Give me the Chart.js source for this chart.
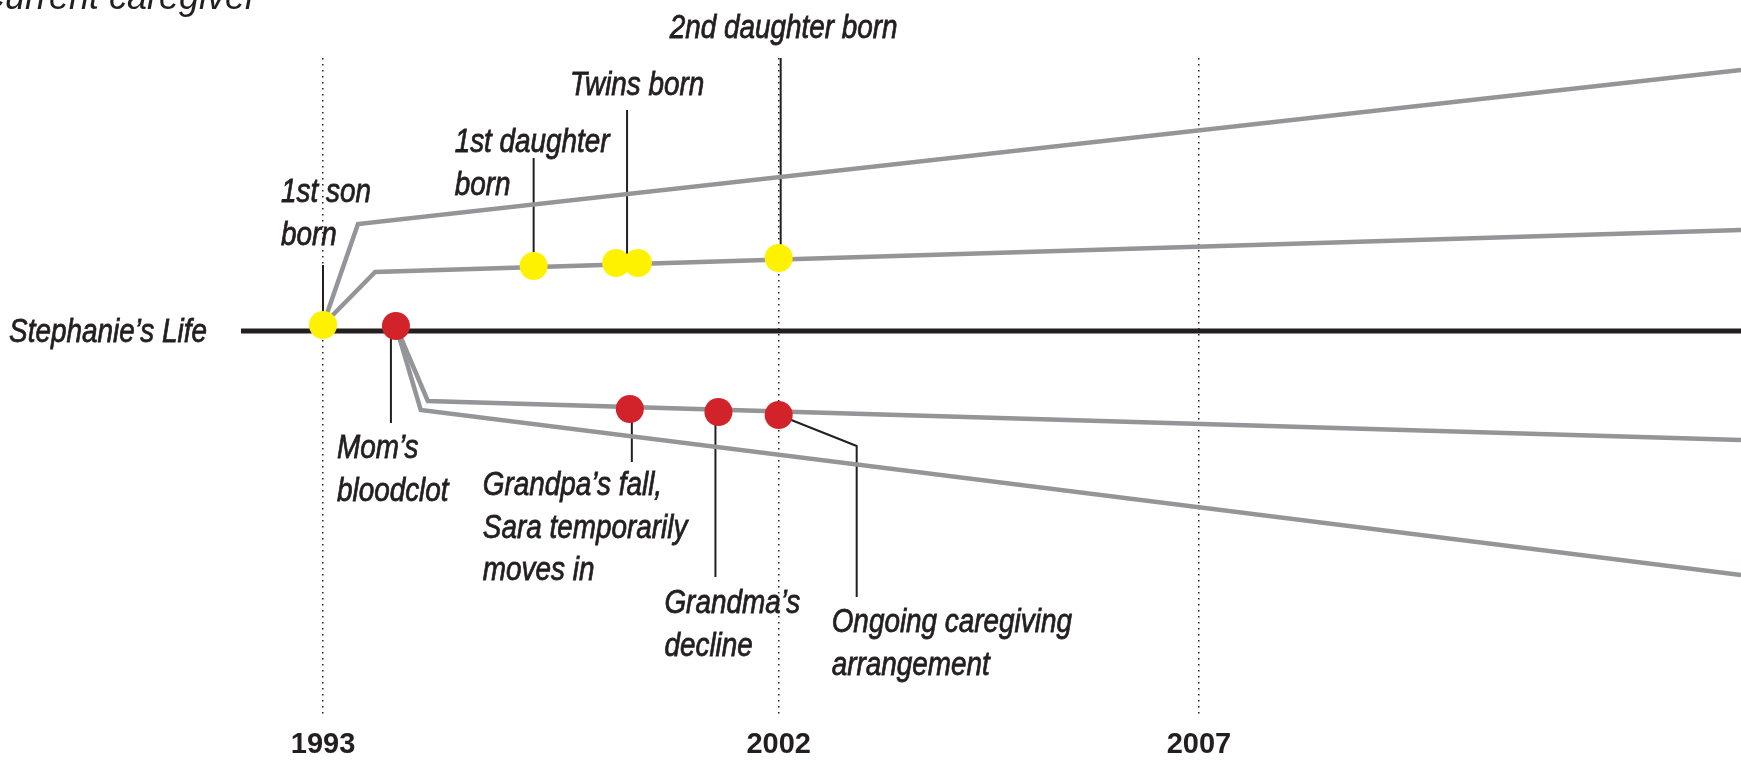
<!DOCTYPE html>
<html>
<head>
<meta charset="utf-8">
<script src="https://cdn.jsdelivr.net/npm/chart.js@4"></script>
<style>
  body { margin: 0; background: #fff; }
  canvas { display: block; }
</style>
</head>
<body>
<canvas id="timeline" width="1741" height="760"></canvas>
<script>
const yearTicks = [1993, 2002, 2007];
const yearLabels = ['1993', '2002', '2007'];
const lifeLabel = 'Stephanie\u2019s Life';
const pageTitle = 'Current caregiver';

// the life line itself (years, distance from the line)
const lifeYears = [1991.38, 2013.45];
const lifeLevel = [0, 0];

// children branching off above the line
const outerKidsYears = [1993.0, 1993.69, 2013.45];
const outerKidsLevel = [0.6, 10.7, 26.1];
const innerKidsYears = [1993.0, 1994.03, 2013.45];
const innerKidsLevel = [0.6, 5.9, 10.1];

// caregiving branches below the line
const upperCareYears = [1994.44, 1995.07, 2013.45];
const upperCareLevel = [0.5, -7.0, -10.9];
const lowerCareYears = [1994.44, 1994.93, 2013.45];
const lowerCareLevel = [0.5, -7.9, -24.4];

const birthEvents = ['1st son born', '1st daughter born', 'Twins born', 'Twins born', '2nd daughter born'];
const birthYears = [1993.0, 1997.16, 1998.79, 1999.22, 2002.0];
const birthLevel = [0.6, 6.5, 6.8, 6.8, 7.3];

const careEvents = ['Mom\u2019s bloodclot', 'Grandpa\u2019s fall, Sara temporarily moves in', 'Grandma\u2019s decline', 'Ongoing caregiving arrangement'];
const careYears = [1994.44, 1999.06, 2000.81, 2002.0];
const careLevel = [0.5, -7.8, -8.1, -8.4];

// years after 2002 are drawn wider on the original timeline
const stretchFrom = 2002;
const stretchBy = 1.66;
const stretch = (y) => (y <= stretchFrom ? y : stretchFrom + (y - stretchFrom) * stretchBy);
const unstretch = (v) => (v <= stretchFrom ? v : stretchFrom + (v - stretchFrom) / stretchBy);

class TimelineScale extends Chart.LinearScale {
  getPixelForValue(value) {
    return value === null ? NaN : super.getPixelForValue(stretch(value));
  }
  getValueForPixel(pixel) {
    return unstretch(super.getValueForPixel(pixel));
  }
}
TimelineScale.id = 'timeline';
TimelineScale.defaults = Chart.LinearScale.defaults;
Chart.register(TimelineScale);

// label placement (pixel offsets from the marked event)
const notes = [
  { set: 'birth', idx: [0], lines: ['1st son', 'born'], dx: -42, dy: -123, leader: [[0, 0], [0, -60]] },
  { set: 'birth', idx: [1], lines: ['1st daughter', 'born'], dx: -79, dy: -114, leader: [[0, 0], [0, -108]] },
  { set: 'birth', idx: [2, 3], lines: ['Twins born'], dx: -57, dy: -168, leader: [[0, 0], [0, -153]] },
  { set: 'birth', idx: [4], lines: ['2nd daughter born'], dx: -109, dy: -220, leader: [[2, 0], [2, -200]] },
  { set: 'care', idx: [0], lines: ['Mom\u2019s', 'bloodclot'], dx: -59, dy: 132, leader: [[-5, 0], [-5, 97]] },
  { set: 'care', idx: [1], lines: ['Grandpa\u2019s fall,', 'Sara temporarily', 'moves in'], dx: -147, dy: 86, leader: [[2, 0], [2, 53]] },
  { set: 'care', idx: [2], lines: ['Grandma\u2019s', 'decline'], dx: -54, dy: 201, leader: [[-3, 0], [-3, 165]] },
  { set: 'care', idx: [3], lines: ['Ongoing caregiving', 'arrangement'], dx: 53, dy: 217, leader: [[0, 0], [78, 31], [78, 182]] }
];

const ink = '#231f20';
const noteFont = 'italic 34px "Liberation Sans", Arial, sans-serif';
const condense = 0.82;  // the original uses a condensed face

function anchorOf(chart, note) {
  const xs = note.set === 'birth' ? birthYears : careYears;
  const ys = note.set === 'birth' ? birthLevel : careLevel;
  let px = 0, py = 0;
  note.idx.forEach(i => {
    px += chart.scales.x.getPixelForValue(xs[i]);
    py += chart.scales.y.getPixelForValue(ys[i]);
  });
  return [px / note.idx.length, py / note.idx.length];
}

function narrowText(ctx, text, x, y) {
  ctx.save();
  ctx.translate(x, y);
  ctx.scale(condense, 1);
  ctx.fillText(text, 0, 0);
  ctx.strokeText(text, 0, 0);
  ctx.restore();
}

const notesPlugin = {
  id: 'notes',
  beforeDatasetsDraw(chart) {
    const ctx = chart.ctx;
    ctx.save();
    ctx.strokeStyle = ink;
    ctx.lineWidth = 2;
    notes.forEach(n => {
      const [ax, ay] = anchorOf(chart, n);
      ctx.beginPath();
      n.leader.forEach(([lx, ly], i) => {
        if (i === 0) ctx.moveTo(ax + lx, ay + ly);
        else ctx.lineTo(ax + lx, ay + ly);
      });
      ctx.stroke();
    });
    ctx.restore();
  },
  afterDraw(chart) {
    const ctx = chart.ctx;
    ctx.save();
    ctx.fillStyle = ink;
    ctx.strokeStyle = ink;
    ctx.lineWidth = 0.8;
    ctx.font = noteFont;
    ctx.textBaseline = 'alphabetic';
    ctx.textAlign = 'left';
    notes.forEach(n => {
      const [ax, ay] = anchorOf(chart, n);
      n.lines.forEach((t, i) => narrowText(ctx, t, ax + n.dx, ay + n.dy + i * 42.5));
    });
    // name of the life line, left of the plot
    ctx.textAlign = 'right';
    narrowText(ctx, lifeLabel, chart.chartArea.left - 34, chart.scales.y.getPixelForValue(0) + 11);
    ctx.font = 'italic 36px "Liberation Sans", Arial, sans-serif';
    ctx.fillText(pageTitle, 257, 9);
    ctx.restore();
  }
};

const pts = (xs, ys) => xs.map((x, i) => ({ x: x, y: ys[i] }));
const greyLine = (label, xs, ys) => ({
  label: label,
  data: pts(xs, ys),
  borderColor: '#939598',
  borderWidth: 4.5,
  borderJoinStyle: 'miter',
  pointRadius: 0,
  tension: 0,
  order: 2
});

new Chart(document.getElementById('timeline'), {
  type: 'line',
  data: {
    datasets: [
      {
        label: 'Births',
        data: pts(birthYears, birthLevel),
        showLine: false,
        pointRadius: 14,
        pointBorderWidth: 0,
        pointBackgroundColor: '#fff200',
        order: 0
      },
      {
        label: 'Caregiving events',
        data: pts(careYears, careLevel),
        showLine: false,
        pointRadius: 14,
        pointBorderWidth: 0,
        pointBackgroundColor: '#d2232a',
        order: 0
      },
      {
        label: lifeLabel,
        data: pts(lifeYears, lifeLevel),
        borderColor: ink,
        borderWidth: 5,
        pointRadius: 0,
        order: 1
      },
      greyLine('Children (outer)', outerKidsYears, outerKidsLevel),
      greyLine('Children (inner)', innerKidsYears, innerKidsLevel),
      greyLine('Care (upper)', upperCareYears, upperCareLevel),
      greyLine('Care (lower)', lowerCareYears, lowerCareLevel)
    ]
  },
  options: {
    responsive: false,
    animation: false,
    layout: { autoPadding: false, padding: { top: 58, right: 0, bottom: 0, left: 0 } },
    plugins: {
      legend: { display: false },
      tooltip: { enabled: false },
      title: { display: false }
    },
    scales: {
      x: {
        type: 'timeline',
        bounds: 'data',
        min: stretch(lifeYears[0]),
        max: stretch(lifeYears[1]),
        afterBuildTicks: (s) => { s.ticks = yearTicks.map(v => ({ value: v })); },
        afterFit: (s) => { s.height = 43; },
        grid: { display: true, drawTicks: false, color: ink, lineWidth: 1.5 },
        border: { display: false, dash: [1.5, 4.5] },
        ticks: {
          padding: 11,
          maxRotation: 0,
          autoSkip: false,
          color: ink,
          font: { family: '"Liberation Sans", Arial, sans-serif', size: 29, weight: 'bold' },
          callback: (v, i) => yearLabels[i]
        }
      },
      y: {
        min: -38.6,
        max: 27.3,
        afterFit: (s) => { s.width = 241; },
        grid: { display: false },
        border: { display: false },
        ticks: { display: false }
      }
    }
  },
  plugins: [notesPlugin]
});
</script>
</body>
</html>
